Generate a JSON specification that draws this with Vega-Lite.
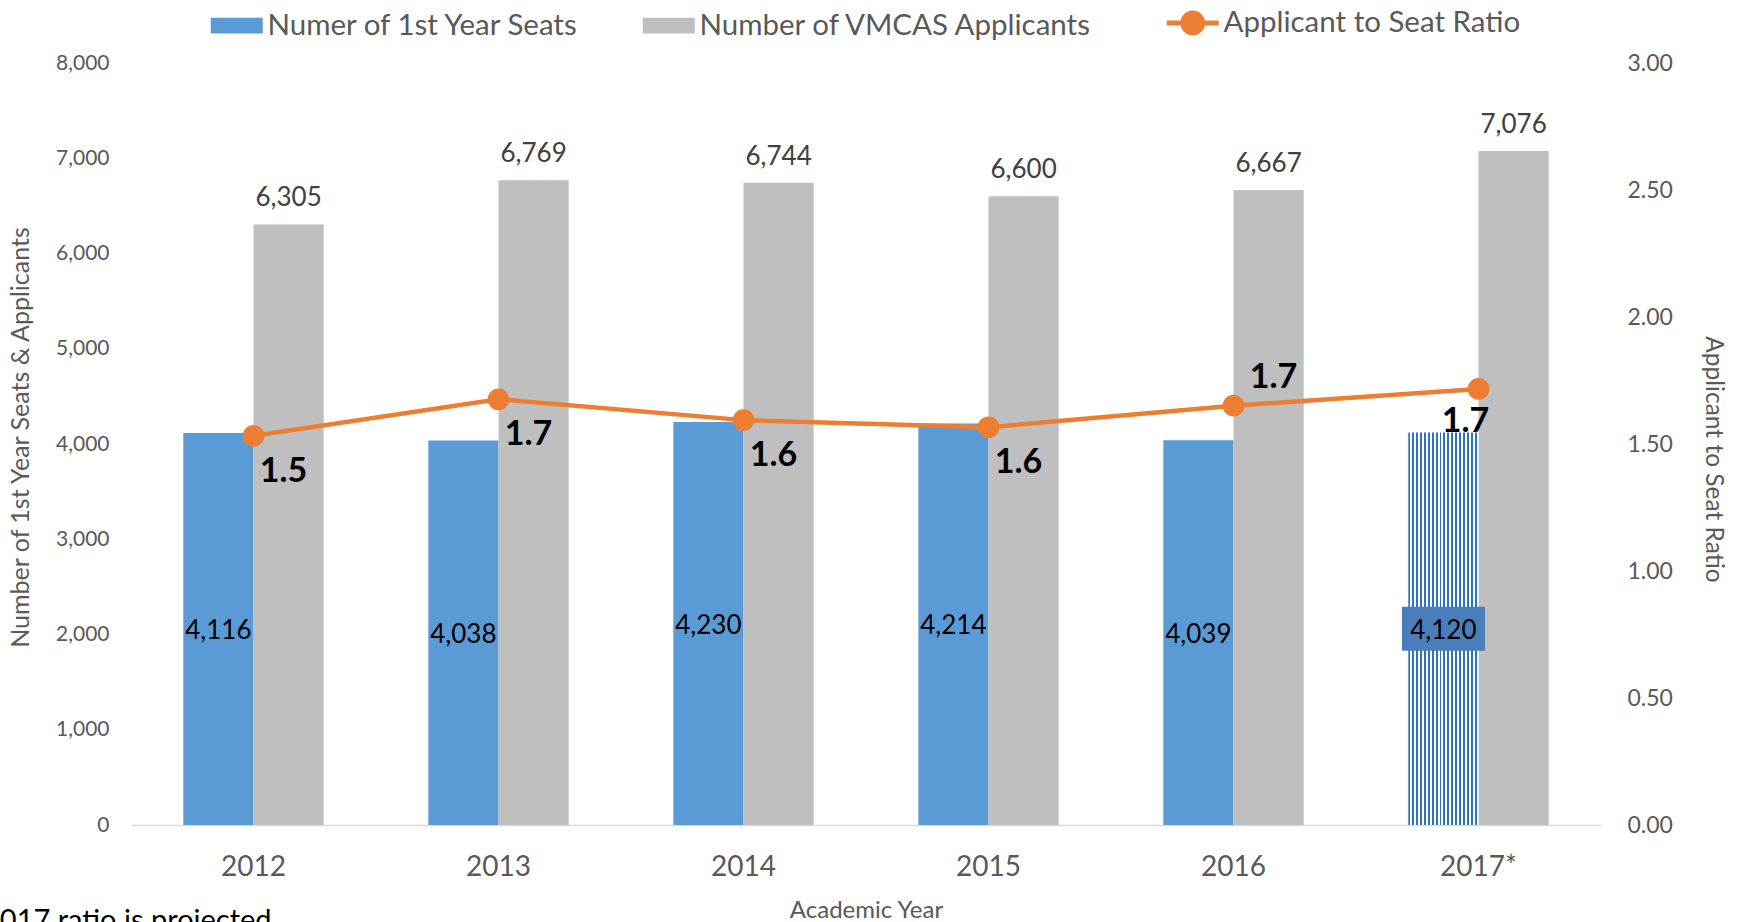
{
  "$schema": "https://vega.github.io/schema/vega-lite/v6.json",
  "width": 1470,
  "height": 762,
  "autosize": {"type": "none"},
  "padding": {"left": 131, "top": 63, "right": 145, "bottom": 97},
  "background": "white",
  "config": {
    "view": {"stroke": null},
    "font": "Lato",
    "axisLeft": {
      "grid": false,
      "domain": false,
      "ticks": false,
      "labelFont": "Lato",
      "labelFontSize": 21,
      "labelColor": "#595959",
      "labelPadding": 22,
      "titleFont": "Lato",
      "titleFontSize": 25,
      "titleFontWeight": "normal",
      "titleColor": "#595959",
      "titlePadding": 22,
      "titleY": 374
    }
  },
  "datasets": {
    "bars": [
      {"year": "2012", "series": "Numer of 1st Year Seats", "value": 4116},
      {"year": "2012", "series": "Number of VMCAS Applicants", "value": 6305},
      {"year": "2013", "series": "Numer of 1st Year Seats", "value": 4038},
      {"year": "2013", "series": "Number of VMCAS Applicants", "value": 6769},
      {"year": "2014", "series": "Numer of 1st Year Seats", "value": 4230},
      {"year": "2014", "series": "Number of VMCAS Applicants", "value": 6744},
      {"year": "2015", "series": "Numer of 1st Year Seats", "value": 4214},
      {"year": "2015", "series": "Number of VMCAS Applicants", "value": 6600},
      {"year": "2016", "series": "Numer of 1st Year Seats", "value": 4039},
      {"year": "2016", "series": "Number of VMCAS Applicants", "value": 6667},
      {"year": "2017*", "series": "Numer of 1st Year Seats", "value": 4120},
      {"year": "2017*", "series": "Number of VMCAS Applicants", "value": 7076}
    ],
    "ratio": [
      {"year": "2012", "ratio": 1.532},
      {"year": "2013", "ratio": 1.676},
      {"year": "2014", "ratio": 1.594},
      {"year": "2015", "ratio": 1.566},
      {"year": "2016", "ratio": 1.651},
      {"year": "2017*", "ratio": 1.717}
    ]
  },
  "title": {
    "text": "2017 ratio is projected",
    "orient": "bottom",
    "anchor": "start",
    "frame": "group",
    "dx": -148,
    "offset": -15,
    "font": "Lato",
    "fontSize": 29,
    "fontWeight": "normal",
    "color": "#000000"
  },
  "encoding": {
    "x": {
      "field": "year",
      "type": "nominal",
      "title": "Academic Year",
      "scale": {"paddingInner": 0.427, "paddingOuter": 0.2135},
      "axis": {
        "labelAngle": 0,
        "labelFont": "Lato",
        "labelFontSize": 28,
        "labelColor": "#595959",
        "labelPadding": 28,
        "ticks": false,
        "domainColor": "#D9D9D9",
        "domainWidth": 1.5,
        "titleFont": "Lato",
        "titleFontSize": 24,
        "titleFontWeight": "normal",
        "titleColor": "#595959",
        "titlePadding": 17
      }
    }
  },
  "layer": [
    {
      "data": {"name": "bars"},
      "layer": [
        {
          "transform": [{"filter": "!(datum.year === '2017*' && datum.series === 'Numer of 1st Year Seats')"}],
          "mark": {"type": "bar"},
          "encoding": {
            "xOffset": {"field": "series", "type": "nominal", "scale": {"domain": ["Numer of 1st Year Seats", "Number of VMCAS Applicants"], "paddingInner": 0, "paddingOuter": 0}},
            "y": {
              "field": "value",
              "type": "quantitative",
              "title": "Number of 1st Year Seats & Applicants",
              "scale": {"domain": [0, 8000]},
              "axis": {"values": [0, 1000, 2000, 3000, 4000, 5000, 6000, 7000, 8000], "format": ",.0f"}
            },
            "color": {
              "field": "series",
              "type": "nominal",
              "scale": {
                "domain": ["Numer of 1st Year Seats", "Number of VMCAS Applicants", "Applicant to Seat Ratio"],
                "range": ["#5B9BD5", "#BFBFBF", "#ED7D31"]
              },
              "legend": {
                "orient": "none",
                "legendX": 91,
                "legendY": -55,
                "direction": "horizontal",
                "title": null,
                "labelFont": "Lato",
                "labelFontSize": 29.5,
                "labelColor": "#595959",
                "labelLimit": 0,
                "symbolSize": 2704,
                "symbolType": "M-1,-0.3H1V0.3H-1Z",
                "labelOffset": 16,
                "columnPadding": 62,
                "encode": {
                  "symbols": {
                    "update": {
                      "shape": {"signal": "datum.value === 'Applicant to Seat Ratio' ? 'M-1,0H1M0.38,0A0.38,0.38,0,1,1,-0.38,0A0.38,0.38,0,1,1,0.38,0Z' : 'M-1,-0.3H1V0.3H-1Z'"},
                      "fill": {"scale": "color", "field": "value"},
                      "stroke": {"scale": "color", "field": "value"},
                      "strokeWidth": {"signal": "datum.value === 'Applicant to Seat Ratio' ? 5 : 0"},
                      "opacity": {"value": 1}
                    }
                  }
                }
              }
            }
          }
        },
        {
          "transform": [{"filter": "datum.year === '2017*' && datum.series === 'Numer of 1st Year Seats'"}],
          "mark": {
            "type": "bar",
            "fill": {
              "gradient": "linear", "x1": 0, "y1": 0, "x2": 1, "y2": 0,
              "stops": [
                {"offset": 0, "color": "#2E75B6"}, {"offset": 0.02778, "color": "#2E75B6"}, {"offset": 0.02778, "color": "#FFFFFF"}, {"offset": 0.05556, "color": "#FFFFFF"},
                {"offset": 0.05556, "color": "#2E75B6"}, {"offset": 0.08333, "color": "#2E75B6"}, {"offset": 0.08333, "color": "#FFFFFF"}, {"offset": 0.11111, "color": "#FFFFFF"},
                {"offset": 0.11111, "color": "#2E75B6"}, {"offset": 0.13889, "color": "#2E75B6"}, {"offset": 0.13889, "color": "#FFFFFF"}, {"offset": 0.16667, "color": "#FFFFFF"},
                {"offset": 0.16667, "color": "#2E75B6"}, {"offset": 0.19444, "color": "#2E75B6"}, {"offset": 0.19444, "color": "#FFFFFF"}, {"offset": 0.22222, "color": "#FFFFFF"},
                {"offset": 0.22222, "color": "#2E75B6"}, {"offset": 0.25, "color": "#2E75B6"}, {"offset": 0.25, "color": "#FFFFFF"}, {"offset": 0.27778, "color": "#FFFFFF"},
                {"offset": 0.27778, "color": "#2E75B6"}, {"offset": 0.30556, "color": "#2E75B6"}, {"offset": 0.30556, "color": "#FFFFFF"}, {"offset": 0.33333, "color": "#FFFFFF"},
                {"offset": 0.33333, "color": "#2E75B6"}, {"offset": 0.36111, "color": "#2E75B6"}, {"offset": 0.36111, "color": "#FFFFFF"}, {"offset": 0.38889, "color": "#FFFFFF"},
                {"offset": 0.38889, "color": "#2E75B6"}, {"offset": 0.41667, "color": "#2E75B6"}, {"offset": 0.41667, "color": "#FFFFFF"}, {"offset": 0.44444, "color": "#FFFFFF"},
                {"offset": 0.44444, "color": "#2E75B6"}, {"offset": 0.47222, "color": "#2E75B6"}, {"offset": 0.47222, "color": "#FFFFFF"}, {"offset": 0.5, "color": "#FFFFFF"},
                {"offset": 0.5, "color": "#2E75B6"}, {"offset": 0.52778, "color": "#2E75B6"}, {"offset": 0.52778, "color": "#FFFFFF"}, {"offset": 0.55556, "color": "#FFFFFF"},
                {"offset": 0.55556, "color": "#2E75B6"}, {"offset": 0.58333, "color": "#2E75B6"}, {"offset": 0.58333, "color": "#FFFFFF"}, {"offset": 0.61111, "color": "#FFFFFF"},
                {"offset": 0.61111, "color": "#2E75B6"}, {"offset": 0.63889, "color": "#2E75B6"}, {"offset": 0.63889, "color": "#FFFFFF"}, {"offset": 0.66667, "color": "#FFFFFF"},
                {"offset": 0.66667, "color": "#2E75B6"}, {"offset": 0.69444, "color": "#2E75B6"}, {"offset": 0.69444, "color": "#FFFFFF"}, {"offset": 0.72222, "color": "#FFFFFF"},
                {"offset": 0.72222, "color": "#2E75B6"}, {"offset": 0.75, "color": "#2E75B6"}, {"offset": 0.75, "color": "#FFFFFF"}, {"offset": 0.77778, "color": "#FFFFFF"},
                {"offset": 0.77778, "color": "#2E75B6"}, {"offset": 0.80556, "color": "#2E75B6"}, {"offset": 0.80556, "color": "#FFFFFF"}, {"offset": 0.83333, "color": "#FFFFFF"},
                {"offset": 0.83333, "color": "#2E75B6"}, {"offset": 0.86111, "color": "#2E75B6"}, {"offset": 0.86111, "color": "#FFFFFF"}, {"offset": 0.88889, "color": "#FFFFFF"},
                {"offset": 0.88889, "color": "#2E75B6"}, {"offset": 0.91667, "color": "#2E75B6"}, {"offset": 0.91667, "color": "#FFFFFF"}, {"offset": 0.94444, "color": "#FFFFFF"},
                {"offset": 0.94444, "color": "#2E75B6"}, {"offset": 0.97222, "color": "#2E75B6"}, {"offset": 0.97222, "color": "#FFFFFF"}, {"offset": 1, "color": "#FFFFFF"}
              ]
            }
          },
          "encoding": {
            "xOffset": {"field": "series", "type": "nominal"},
            "y": {"field": "value", "type": "quantitative", "title": "Number of 1st Year Seats & Applicants", "axis": {"values": [0, 1000, 2000, 3000, 4000, 5000, 6000, 7000, 8000], "format": ",.0f"}}
          }
        },
        {
          "transform": [
            {"filter": "datum.year === '2017*' && datum.series === 'Numer of 1st Year Seats'"},
            {"calculate": "datum.value / 2", "as": "mid"}
          ],
          "mark": {"type": "point", "shape": "M-1,-0.53H1V0.53H-1Z", "size": 6889, "filled": true, "fill": "#4A7EBB", "opacity": 1, "strokeWidth": 0},
          "encoding": {
            "xOffset": {"field": "series", "type": "nominal"},
            "y": {"field": "mid", "type": "quantitative", "title": "Number of 1st Year Seats & Applicants", "axis": {"values": [0, 1000, 2000, 3000, 4000, 5000, 6000, 7000, 8000], "format": ",.0f"}}
          }
        },
        {
          "transform": [
            {"filter": "datum.series === 'Numer of 1st Year Seats'"},
            {"calculate": "datum.value / 2", "as": "mid"}
          ],
          "mark": {"type": "text", "font": "Lato", "fontSize": 26, "color": "#000000", "baseline": "middle", "align": "center", "dy": 2},
          "encoding": {
            "xOffset": {"field": "series", "type": "nominal"},
            "y": {"field": "mid", "type": "quantitative", "title": "Number of 1st Year Seats & Applicants", "axis": {"values": [0, 1000, 2000, 3000, 4000, 5000, 6000, 7000, 8000], "format": ",.0f"}},
            "text": {"field": "value", "type": "quantitative", "format": ","}
          }
        },
        {
          "transform": [{"filter": "datum.series === 'Number of VMCAS Applicants'"}],
          "mark": {"type": "text", "font": "Lato", "fontSize": 26, "color": "#404040", "baseline": "middle", "align": "center", "dy": -26},
          "encoding": {
            "xOffset": {"field": "series", "type": "nominal"},
            "y": {"field": "value", "type": "quantitative", "title": "Number of 1st Year Seats & Applicants", "axis": {"values": [0, 1000, 2000, 3000, 4000, 5000, 6000, 7000, 8000], "format": ",.0f"}},
            "text": {"field": "value", "type": "quantitative", "format": ","}
          }
        }
      ]
    },
    {
      "data": {"name": "ratio"},
      "layer": [
        {
          "mark": {"type": "line", "strokeWidth": 4.5},
          "encoding": {
            "y": {
              "field": "ratio",
              "type": "quantitative",
              "title": "Applicant to Seat Ratio",
              "scale": {"domain": [0, 3]},
              "axis": {
                "orient": "right",
                "values": [0, 0.5, 1, 1.5, 2, 2.5, 3],
                "format": ".2f",
                "grid": false,
                "domain": false,
                "ticks": false,
                "labelFont": "Lato",
                "labelFontSize": 23,
                "labelColor": "#595959",
                "labelPadding": 26,
                "titleFont": "Lato",
                "titleFontSize": 24.5,
                "titleFontWeight": "normal",
                "titleColor": "#595959",
                "titlePadding": 28,
                "titleY": 396
              }
            },
            "color": {"datum": "Applicant to Seat Ratio"}
          }
        },
        {
          "mark": {"type": "point", "filled": true, "size": 470, "opacity": 1, "shape": "circle"},
          "encoding": {
            "y": {"field": "ratio", "type": "quantitative", "title": "Applicant to Seat Ratio"},
            "color": {"datum": "Applicant to Seat Ratio"}
          }
        },
        {
          "transform": [{"filter": "datum.year !== '2016' && datum.year !== '2017*'"}],
          "mark": {"type": "text", "font": "Lato", "fontSize": 34, "fontWeight": "bold", "color": "#000000", "align": "center", "baseline": "middle", "dx": 30, "dy": 36},
          "encoding": {
            "y": {"field": "ratio", "type": "quantitative", "title": "Applicant to Seat Ratio"},
            "text": {"field": "ratio", "type": "quantitative", "format": ".1f"}
          }
        },
        {
          "transform": [{"filter": "datum.year === '2016'"}],
          "mark": {"type": "text", "font": "Lato", "fontSize": 34, "fontWeight": "bold", "color": "#000000", "align": "center", "baseline": "middle", "dx": 40, "dy": -28},
          "encoding": {
            "y": {"field": "ratio", "type": "quantitative", "title": "Applicant to Seat Ratio"},
            "text": {"field": "ratio", "type": "quantitative", "format": ".1f"}
          }
        },
        {
          "transform": [{"filter": "datum.year === '2017*'"}],
          "mark": {"type": "text", "font": "Lato", "fontSize": 34, "fontWeight": "bold", "color": "#000000", "align": "center", "baseline": "middle", "dx": -13, "dy": 33},
          "encoding": {
            "y": {"field": "ratio", "type": "quantitative", "title": "Applicant to Seat Ratio"},
            "text": {"field": "ratio", "type": "quantitative", "format": ".1f"}
          }
        }
      ]
    }
  ],
  "resolve": {"scale": {"y": "independent"}}
}
